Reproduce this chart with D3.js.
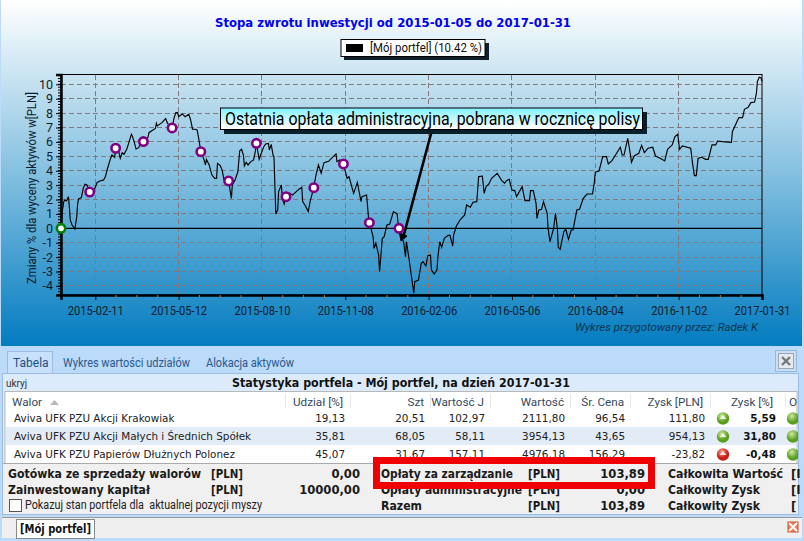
<!DOCTYPE html>
<html>
<head>
<meta charset="utf-8">
<script src="https://cdn.jsdelivr.net/npm/d3@7"></script>
<style>
html, body { margin: 0; padding: 0; background: #bcdaf9; overflow: hidden; }
svg { display: block; }
text { font-family: Roboto, sans-serif; white-space: pre; }
</style>
</head>
<body>
<div id="mapContainer"></div>
<script>
// dni od 2015-01-05 i zmiana w %
const seriesDays = [0,1,3,4,6,8,9,10,12,15,17,18,19,22,24,26,28,30,31,34,37,39,42,46,48,50,53,55,58,59,62,64,66,68,71,73,76,77,79,81,84,86,89,94,95,98,102,103,104,109,113,115,120,122,124,126,127,131,134,138,140,142,145,147,149,151,154,156,157,160,163,166,168,169,172,174,176,179,181,184,185,188,191,193,195,197,198,200,202,205,208,210,211,214,216,219,221,224,225,227,229,230,231,232,234,235,238,239,241,243,247,250,254,257,260,261,264,267,269,273,275,278,281,284,289,292,297,298,301,305,309,311,316,320,324,325,330,332,333,337,338,340,343,344,347,349,352,355,359,363,364,365,367,370,372,373,376,379,381,382,386,389,391,394,396,399,400,403,406,407,409,411,414,418,420,423,424,427,431,436,438,442,445,449,451,455,457,459,462,465,471,476,479,481,484,487,490,492,498,501,506,507,510,513,514,516,519,521,525,526,528,532,534,536,537,539,543,545,548,551,553,555,557,560,564,568,574,576,577,581,585,589,591,595,600,604,606,608,612,615,616,619,624,627,630,634,639,642,647,652,655,660,663,666,668,671,680,682,684,686,688,692,696,699,703,707,709,714,724,725,730,732,736,738,742,745,749,751,752,754,756,757];
const seriesValues = [0,1.04,1.85,1.97,1.9,2.2,1.5,0.58,0.23,-0.05,0.81,1.74,2.04,2.13,2.78,3.06,3.01,2.66,2.52,2.52,2.85,3.19,3.29,3.36,3.59,4.1,4.75,5.09,4.93,5.56,5.44,4.86,5.25,5.14,5.49,5.9,6.53,6.41,6.02,5.51,5.6,5.95,6.02,6.32,6.64,6.78,6.94,7.29,7.11,7.34,7.62,7.29,6.97,7.64,8.03,8.03,7.75,7.94,7.75,7.92,7.52,6.88,6.88,6.83,6.13,5.32,4.86,4.4,4.79,4.4,3.7,3.47,3.47,4.51,4.35,4.05,3.36,3.36,3.29,2.08,3.01,3.36,3.94,5.39,5.49,5.09,4.33,4.58,4.4,4.63,4.75,5.39,5.9,4.79,5.16,5.67,5.86,5.9,5.44,5.83,5.09,4.98,2.89,1,1.27,2.55,3.01,2.08,1.69,2.2,2.43,2.31,2.55,2.71,2.85,1.85,1.55,1.16,1.85,2.82,3.59,4.4,3.82,4.56,4.65,4.86,5.16,4.63,4.75,4.47,3.47,3.59,2.43,3.19,1.85,2.2,2.31,0.81,0.39,-0.58,-1.39,-1.04,-1.85,-3.01,-0.69,-0.58,0.23,0.3,1.16,1,0.35,0,-0.58,-0.93,-1.97,-0.93,-2.2,-3.59,-4.51,-3.7,-3.59,-2.43,-2.31,-2.62,-1.92,-1.85,-2.89,-3.17,-2.89,-1.97,-0.93,-1.32,-0.69,-0.49,-0.49,-1.23,-0.46,0.16,0.58,0.93,1.62,1.46,1.81,1.85,3.59,3.63,2.43,2.89,3.08,3.47,3.82,3.31,3.13,3.31,3.4,2.66,2.62,2.2,2.89,1.92,1.92,2.62,2.62,1.74,0.69,1.27,1.32,1.85,1.04,0,-0.93,0,1.04,0,-1.32,-1.46,-0.23,-0.05,-0.76,-0.12,-0.12,0.58,1.27,1.32,2.08,2.38,2.38,3.24,3.89,3.98,4.98,4.98,4.47,4.7,5.21,5.63,5.09,5.09,6.25,5.09,4.58,5.02,5.21,5.76,5.25,5.56,5.63,5.02,4.86,4.68,5.49,5.79,6.37,6.53,5.49,5.72,5.56,4.51,3.66,3.66,4.86,4.93,4.79,4.79,5.79,5.79,6.06,6.02,5.97,6.71,7.41,7.69,7.69,8.26,8.4,8.73,8.77,9.38,10.19,10.49,10.44,10.2];
const feeDays = [31,59,89,120,151,181,211,243,273,305,333,365];
const feeValues = [2.52,5.56,6.02,6.97,5.32,3.29,5.9,2.2,2.82,4.47,0.39,0];
const xTickLabels = ["2015-02-11","2015-05-12","2015-08-10","2015-11-08","2016-02-06","2016-05-06","2016-08-04","2016-11-02","2017-01-31"];
const yTickValues = [-4,-3,-2,-1,0,1,2,3,4,5,6,7,8,9,10];

const walory = ["Aviva UFK PZU Akcji Krakowiak","Aviva UFK PZU Akcji Małych i Średnich Spółek","Aviva UFK PZU Papierów Dłużnych Polonez"];
const udzial = ["19,13","35,81","45,07"];
const szt = ["20,51","68,05","31,67"];
const wartoscJ = ["102,97","58,11","157,11"];
const wartosc = ["2111,80","3954,13","4976,18"];
const srCena = ["96,54","43,65","156,29"];
const zyskPln = ["111,80","954,13","-23,82"];
const zyskPct = ["5,59","31,80","-0,48"];

const parseDate = d3.utcParse("%Y-%m-%d");
const fmtDate = d3.utcFormat("%Y-%m-%d");
const startDate = parseDate("2015-01-05");
const endDate = parseDate("2017-01-31");

const svg = d3.select("#mapContainer").append("svg").attr("width", 804).attr("height", 541);
const defs = svg.append("defs");

function vGrad(id, stops) {
    const g = defs.append("linearGradient").attr("id", id).attr("x1", 0).attr("y1", 0).attr("x2", 0).attr("y2", 1);
    stops.forEach(s => g.append("stop").attr("offset", s[0]).attr("stop-color", s[1]));
}
vGrad("chartBg", [[0, "#ffffff"], [0.5, "#84c0e0"], [1, "#037cc0"]]);
vGrad("callBg", [[0, "#80f2ff"], [0.95, "#ffffff"]]);
const gi = defs.append("radialGradient").attr("id", "up").attr("cx", 0.4).attr("cy", 0.3);
gi.append("stop").attr("offset", 0).attr("stop-color", "#cfe8a0");
gi.append("stop").attr("offset", 1).attr("stop-color", "#5a9e1e");
const gr = defs.append("radialGradient").attr("id", "down").attr("cx", 0.4).attr("cy", 0.3);
gr.append("stop").attr("offset", 0).attr("stop-color", "#f0a090");
gr.append("stop").attr("offset", 1).attr("stop-color", "#c81e14");
defs.append("clipPath").attr("id", "winClip").append("rect").attr("x", 0).attr("y", 0).attr("width", 798).attr("height", 541);

function rect(x, y, w, h, fill, stroke) {
    return svg.append("rect").attr("x", x).attr("y", y).attr("width", w).attr("height", h)
        .attr("fill", fill).attr("stroke", stroke || "none");
}
function label(x, y, s, size, opts) {
    opts = opts || {};
    const t = svg.append("text").attr("x", x).attr("y", y).text(s)
        .attr("font-size", size)
        .attr("dominant-baseline", "central")
        .attr("text-anchor", opts.anchor || "start")
        .attr("font-weight", opts.bold ? "bold" : "normal")
        .attr("font-style", opts.italic ? "italic" : "normal")
        .attr("fill", opts.fill || "#000")
        .style("font-family", opts.font || null);
    if (opts.len) t.attr("textLength", opts.len).attr("lengthAdjust", "spacingAndGlyphs");
    return t;
}

// tlo wykresu
rect(1, 0, 801, 346, "url(#chartBg)");

const margin = {left: 61, right: 762, top: 74.5, bottom: 295};
const x = d3.scaleUtc().domain([startDate, endDate]).range([margin.left, margin.right]);
const y = d3.scaleLinear().domain([-4.63, 10.68]).range([margin.bottom, margin.top]);
const dayToDate = d => d3.utcDay.offset(startDate, d);
const xTicks = xTickLabels.map(parseDate);

// siatka
const grid = svg.append("g").attr("stroke", "#85787a").attr("stroke-dasharray", "5,3").attr("stroke-width", 1).attr("shape-rendering", "crispEdges");
grid.selectAll(".gx").data(xTicks.slice(0, -1)).enter().append("line")
    .attr("x1", d => x(d)).attr("x2", d => x(d)).attr("y1", margin.top).attr("y2", margin.bottom);
grid.selectAll(".gy").data(yTickValues.filter(d => d !== 0)).enter().append("line")
    .attr("x1", margin.left).attr("x2", margin.right).attr("y1", d => y(d)).attr("y2", d => y(d));

// ramka
svg.append("rect").attr("x", margin.left).attr("y", margin.top).attr("width", margin.right - margin.left)
    .attr("height", margin.bottom - margin.top).attr("fill", "none").attr("stroke", "#000").attr("stroke-width", 1);

// os Y
const yAxis = d3.axisLeft(y).tickValues(yTickValues).tickSize(5).tickPadding(3).tickFormat(d => String(d));
const gy = svg.append("g").attr("transform", "translate(" + margin.left + ",0)").call(yAxis);
gy.select(".domain").attr("stroke-width", 2.5);
gy.selectAll("text").attr("font-size", 12.5).attr("fill", "#0c1c2c");
const yMinor = d3.range(-46, 107, 2).map(d => d / 10);
svg.append("g").selectAll("line").data(yMinor).enter().append("line")
    .attr("x1", margin.left - 3).attr("x2", margin.left).attr("y1", d => y(d)).attr("y2", d => y(d))
    .attr("stroke", "#000");

// os X
const xAxis = d3.axisBottom(x).tickValues(xTicks).tickSize(5).tickPadding(6).tickFormat(fmtDate);
const gx = svg.append("g").attr("transform", "translate(0," + margin.bottom + ")").call(xAxis);
gx.select(".domain").attr("stroke-width", 2.5);
gx.selectAll("text").attr("font-size", 12).attr("fill", "#0c1c2c")
    .attr("textLength", 56).attr("lengthAdjust", "spacingAndGlyphs");
const xMinor = [];
xTicks.forEach((t, i) => {
    if (i === 0) return;
    const a = x(xTicks[i - 1]), b = x(t);
    [1, 2, 3].forEach(k => xMinor.push(x.invert(a + (b - a) * k / 4)));
});
svg.append("g").selectAll("line").data(xMinor).enter().append("line")
    .attr("x1", d => x(d)).attr("x2", d => x(d)).attr("y1", margin.bottom).attr("y2", margin.bottom + 3)
    .attr("stroke", "#b07a50");

// linia zero
svg.append("line").attr("x1", x(startDate)).attr("x2", x(endDate)).attr("y1", y(0)).attr("y2", y(0))
    .attr("stroke", "#000").attr("stroke-width", 1.3);

// seria
const line = d3.line().x(d => x(dayToDate(d[0]))).y(d => y(d[1]));
svg.append("path").datum(d3.zip(seriesDays, seriesValues)).attr("d", line)
    .attr("fill", "none").attr("stroke", "#000").attr("stroke-width", 1.15).attr("stroke-linejoin", "miter");

// strzalka do ostatniej oplaty
svg.append("line").attr("x1", 432).attr("y1", 130).attr("x2", 403).attr("y2", 238)
    .attr("stroke", "#000").attr("stroke-width", 2.6);
svg.append("path").attr("d", "M401,241 L399.5,233 L407,236 Z").attr("fill", "#000").attr("stroke", "#000");

// znaczniki oplat
svg.append("g").selectAll("circle").data(d3.zip(feeDays, feeValues)).enter().append("circle")
    .attr("cx", d => x(dayToDate(d[0]))).attr("cy", d => y(d[1])).attr("r", 4.2)
    .attr("fill", "#fff").attr("stroke", "#800080").attr("stroke-width", 2.6);
svg.append("circle").attr("cx", x(startDate)).attr("cy", y(0)).attr("r", 4.2)
    .attr("fill", "#fff").attr("stroke", "#008000").attr("stroke-width", 2.6);

// tytul
label(393, 22, "Stopa zwrotu inwestycji od 2015-01-05 do 2017-01-31", 12.8, {anchor: "middle", bold: true, fill: "#0000f0", font: "DejaVu Sans", len: 356});

// legenda
rect(344, 43, 145, 17, "#10202a");
rect(341, 39.5, 144, 17, "#fff", "#000");
rect(346, 44, 17, 8, "#000");
label(370, 48, "[Mój portfel] (10.42 %)", 12, {fill: "#111", len: 112});

// dymek
rect(224, 112, 423, 22, "#08202c");
rect(220.5, 108, 422, 21.5, "url(#callBg)", "#000");
label(225, 119, "Ostatnia opłata administracyjna, pobrana w rocznicę polisy", 17.5, {fill: "#000", len: 415});

svg.append("text").attr("transform", "translate(32,188) rotate(-90)").attr("text-anchor", "middle")
    .attr("dominant-baseline", "central").attr("font-size", 12).attr("fill", "#0c1c2c")
    .attr("textLength", 192).attr("lengthAdjust", "spacingAndGlyphs")
    .text("Zmiany % dla wyceny aktywów w[PLN]");
label(758, 327, "Wykres przygotowany przez: Radek K", 11.7, {anchor: "end", italic: true, fill: "#0a3450", len: 183});

// zakladki
rect(7.5, 351.5, 45, 26, "#c9e0fb", "#9cbde0");
label(13, 363, "Tabela", 12, {fill: "#1f4f80"});
label(63, 363, "Wykres wartości udziałów", 12, {fill: "#27598c", len: 127});
label(206, 363, "Alokacja aktywów", 12, {fill: "#27598c", len: 88});
rect(775.5, 350.5, 21, 21, "#c9dff6", "#98b8da");
rect(778.5, 353.5, 15, 15, "#e4eaf0", "#9aa6b2");
svg.append("path").attr("d", "M782,357 L790,365 M790,357 L782,365").attr("stroke", "#777").attr("stroke-width", 2.4).attr("fill", "none");

// panel statystyki
rect(2.5, 373.5, 796, 141, "#dcebfb", "#9cbde0");
label(6, 383, "ukryj", 10, {fill: "#333"});
label(401, 383, "Statystyka portfela - Mój portfel, na dzień 2017-01-31", 12, {anchor: "middle", bold: true, font: "DejaVu Sans", fill: "#111", len: 338});
rect(5, 391.5, 792, 72, "#fff", "#b8b8b8");
rect(6, 427, 790, 18, "#e3ecf6");

// naglowki tabeli
const table = svg.append("g").attr("clip-path", "url(#winClip)");
const headers = ["Udział [%]","Szt","Wartość J","Wartość","Śr. Cena","Zysk [PLN]","Zysk [%]"];
const headerX = [343,424,484,564,624,703,773];
label(12, 402, "Walor", 11.7, {fill: "#34495e"});
svg.append("path").attr("d", "M50,405 L59,405 L54.5,400 Z").attr("fill", "#b4b8bc");
headers.forEach((h, i) => label(headerX[i], 402, h, 11.7, {anchor: "end", fill: "#34495e"}));
label(789, 402, "O", 11.7, {fill: "#34495e"});
[285, 350, 430, 490, 570, 630, 710, 785].forEach(sx => rect(sx, 394, 1, 14, "#e8e8e8"));

// wiersze
const rowY = [418, 436, 454];
const colFont = {font: "DejaVu Sans", fill: "#222"};
walory.forEach((w, i) => {
    const yy = rowY[i];
    label(14, yy, w, 10.4, colFont);
    [[udzial, 345], [szt, 425], [wartoscJ, 485], [wartosc, 565], [srCena, 625], [zyskPln, 705]].forEach(c => {
        label(c[1], yy, c[0][i], 10.4, Object.assign({anchor: "end"}, colFont));
    });
    label(776, yy, zyskPct[i], 10.4, {anchor: "end", bold: true, font: "DejaVu Sans", fill: "#111"});
    const isUp = !zyskPln[i].startsWith("-");
    svg.append("circle").attr("cx", 723).attr("cy", yy + 0.5).attr("r", 6.2).attr("fill", isUp ? "url(#up)" : "url(#down)");
    svg.append("path").attr("d", "M719.5," + (yy + 1) + " L723," + (yy - 3) + " L726.5," + (yy + 1) + " Z").attr("fill", "#fff").attr("opacity", 0.8);
    table.append("circle").attr("cx", 793).attr("cy", yy + 0.5).attr("r", 6.2).attr("fill", "url(#up)");
});

// stopka
rect(3, 463, 795, 51, "#f0f0f0");
svg.append("line").attr("x1", 3).attr("x2", 798).attr("y1", 463.5).attr("y2", 463.5).attr("stroke", "#aaa");
const footFont = {bold: true, font: "DejaVu Sans", fill: "#1a1a1a"};
const footLeft = ["Gotówka ze sprzedaży walorów","Zainwestowany kapitał"];
const footLeftLen = [193,142];
const footLeftVal = ["0,00","10000,00"];
const footMid = ["Opłaty za zarządzanie","Opłaty administracyjne","Razem"];
const footMidLen = [132,141,41];
const footMidVal = ["103,89","0,00","103,89"];
const footRight = ["Całkowita Wartość","Całkowity Zysk","Całkowity Zysk"];
const footRightLen = [115,92,92];
const footRightCut = ["[I","[I","["];
const footY = [474, 490, 506];
footLeft.forEach((s, i) => {
    label(8, footY[i], s, 11.6, Object.assign({len: footLeftLen[i]}, footFont));
    label(211, footY[i], "[PLN]", 11.6, Object.assign({len: 32}, footFont));
    label(360, footY[i], footLeftVal[i], 11.6, Object.assign({anchor: "end"}, footFont));
});
footMid.forEach((s, i) => {
    label(381, footY[i], s, 11.6, Object.assign({len: footMidLen[i]}, footFont));
    label(528, footY[i], "[PLN]", 11.6, Object.assign({len: 32}, footFont));
    label(645, footY[i], footMidVal[i], 11.6, Object.assign({anchor: "end"}, footFont));
});
footRight.forEach((s, i) => {
    label(668, footY[i], s, 11.6, Object.assign({len: footRightLen[i]}, footFont));
    label(791, footY[i], footRightCut[i], 11.6, footFont);
});
rect(9.5, 499.5, 12, 12, "#fff", "#555");
label(25, 505, "Pokazuj stan portfela dla  aktualnej pozycji myszy", 12, {fill: "#222", len: 237});

// czerwona ramka
svg.append("rect").attr("x", 376.5).attr("y", 460.5).attr("width", 275).attr("height", 25)
    .attr("fill", "none").attr("stroke", "#f00000").attr("stroke-width", 7);

// dolny pasek
rect(2, 518, 800, 20, "#efefef");
svg.append("line").attr("x1", 2).attr("x2", 802).attr("y1", 517.5).attr("y2", 517.5).attr("stroke", "#9a9a9a");
rect(16.5, 519.5, 78, 19, "#fff", "#888");
label(55.5, 529, "[Mój portfel]", 11.5, {anchor: "middle", bold: true, font: "DejaVu Sans", fill: "#111", len: 71});
rect(788, 522, 10, 10, "#f08060", "#d05030");
svg.append("path").attr("d", "M789,523 L797,531 M797,523 L789,531").attr("stroke", "#fff").attr("stroke-width", 1.8);
</script>
</body>
</html>
